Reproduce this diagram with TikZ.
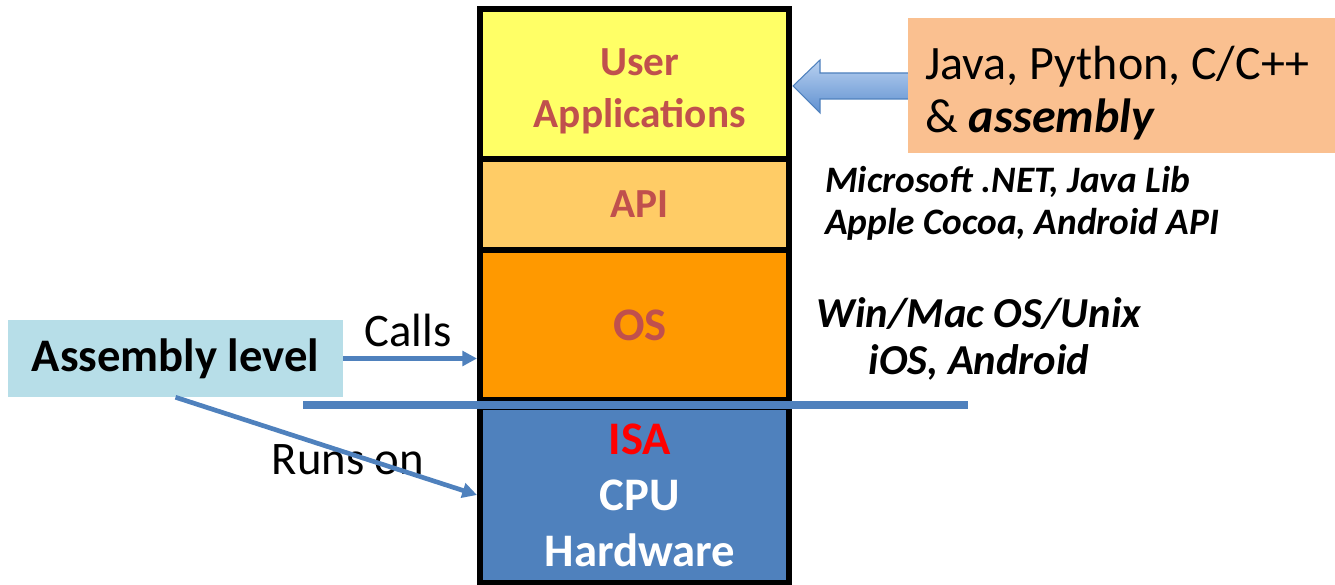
\documentclass[tikz,border=0pt]{standalone}
\usepackage{fontspec}
\setmainfont{Carlito}
\usetikzlibrary{arrows.meta}
\definecolor{uaYellow}{HTML}{FFFF66}
\definecolor{apiOrange}{HTML}{FFCC66}
\definecolor{osOrange}{HTML}{FF9900}
\definecolor{hwBlue}{HTML}{4F81BD}
\definecolor{txtRed}{HTML}{C0504D}
\definecolor{isaRed}{HTML}{FF0000}
\definecolor{javaFill}{HTML}{FAC090}
\definecolor{asmFill}{HTML}{B7DEE8}
\definecolor{lineBlue}{HTML}{4F81BD}
\definecolor{arrLight}{HTML}{B9D1F0}
\definecolor{arrDark}{HTML}{5F90D0}
\newcommand{\shiftln}{\hspace*{8pt}}
\tikzset{
  layerbox/.style={draw=black, line width=4.5pt, minimum width=231.75pt,
    inner sep=0pt, align=center},
  conn/.style={draw=lineBlue, line width=3.5pt,
    -{Triangle[length=11pt,width=11pt]}},
  sidetext/.style={inner sep=0pt, font=\fontsize{28}{31.5}\selectfont\bfseries\itshape}
}
\begin{document}
\begin{tikzpicture}[x=0.75pt,y=-0.75pt]
\useasboundingbox (0,0) rectangle (1335,585);

% stack
\node[layerbox, fill=uaYellow, minimum height=112.5pt, text=txtRed,
  font=\fontsize{31}{39}\selectfont\bfseries] (ua) at (634.5,84)
  {\rule{0pt}{30.5pt}\shiftln User\\\shiftln Applications};
\node[layerbox, fill=apiOrange, minimum height=68.25pt, text=txtRed,
  font=\fontsize{31}{39}\selectfont\bfseries] (api) at (634.5,204.5) {\shiftln API};
\node[layerbox, fill=osOrange, minimum height=112.5pt, text=txtRed,
  font=\fontsize{35}{42}\selectfont\bfseries] (os) at (634.5,325) {\shiftln OS};
\node[layerbox, fill=hwBlue, minimum height=132pt, text=white,
  font=\fontsize{35}{42}\selectfont\bfseries] (hw) at (634.5,495)
  {\shiftln\textcolor{isaRed}{ISA}\\\shiftln CPU\\\shiftln Hardware};

% separator line
\coordinate (sl) at (303,405);
\coordinate (sr) at (968,405);
\draw[lineBlue, line width=6pt] (sl) -- (sr);

% block arrow from language box
\shade[top color=arrLight, bottom color=arrDark, draw=lineBlue, line width=0.8pt]
  (793,86) -- (820,60) -- (820,73) -- (912,73) -- (912,99) -- (820,99) -- (820,113) -- cycle;

% language box
\node[fill=javaFill, minimum height=101.25pt, text width=294.25pt, inner xsep=13pt,
  inner ysep=0pt, align=flush left, font=\fontsize{36}{40}\selectfont] (lang) at (1121.5,85.5)
  {\rule{0pt}{36pt}Java, Python, C/C++\\\& \textbf{\textit{assembly}}};

% side texts
\node[sidetext, anchor=west, align=left] (apitxt) at (825,203)
  {Microsoft .NET, Java Lib\\Apple Cocoa, Android API};
\node[sidetext, align=center, font=\fontsize{32}{35.25}\selectfont\bfseries\itshape] (ostxt) at (979,338.5)
  {Win/Mac OS/Unix\\iOS, Android};

% assembly level
\node[fill=asmFill, minimum width=251.25pt, minimum height=57.75pt, inner sep=0pt,
  font=\fontsize{35}{42}\selectfont\bfseries] (asm) at (175.5,358.5) {Assembly level};

% labels
\node[font=\fontsize{35}{42}\selectfont, inner sep=0pt] (calls) at (408,330) {Calls};
\node[font=\fontsize{35}{42}\selectfont, inner sep=0pt] (runs) at (348,460) {Runs on};

% connectors
\draw[conn] (asm.east) -- (asm.east -| os.west);
\draw[conn] (asm.south) -- (hw.west);
\end{tikzpicture}
\end{document}
